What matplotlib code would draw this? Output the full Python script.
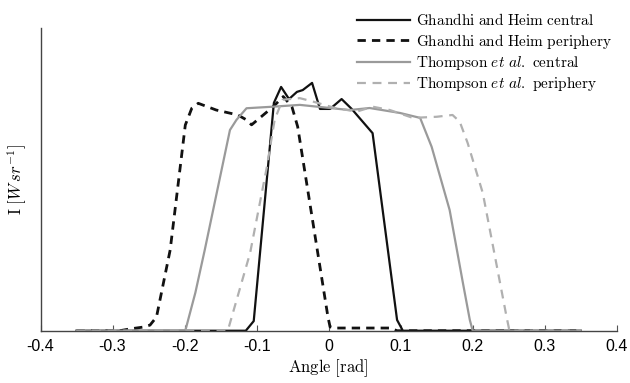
import matplotlib.pyplot as plt
import numpy as np

plt.rcParams['mathtext.fontset'] = 'cm'
plt.rcParams['axes.unicode_minus'] = False

# Ghandhi and Heim, central
gh_c_x = [-0.35, -0.115, -0.104, -0.076, -0.066, -0.055, -0.044, -0.036, -0.023, -0.012,
          0.002, 0.018, 0.032, 0.061, 0.095, 0.103, 0.35]
gh_c_y = [0, 0, 0.043, 1.016, 1.087, 1.033, 1.065, 1.073, 1.105, 0.989,
          0.989, 1.033, 0.989, 0.881, 0.048, 0, 0]

# Ghandhi and Heim, periphery
gh_p_x = [-0.35, -0.29, -0.276, -0.258, -0.248, -0.239, -0.22, -0.199, -0.19, -0.181, -0.156,
          -0.126, -0.114, -0.107, -0.077, -0.063, -0.051, -0.043, -0.001, 0.002, 0.01,
          0.042, 0.085, 0.095, 0.35]
gh_p_y = [0, 0, 0.008, 0.016, 0.025, 0.061, 0.36, 0.917, 0.992, 1.014, 0.984,
          0.962, 0.94, 0.918, 0.999, 1.044, 0.999, 0.91, 0.062, 0.017, 0.012,
          0.012, 0.012, 0, 0]

# Thompson et al., central
th_c_x = [-0.35, -0.199, -0.185, -0.172, -0.137, -0.128, -0.114, -0.077, -0.04, 0.002, 0.029,
          0.057, 0.099, 0.127, 0.143, 0.168, 0.186, 0.196, 0.2, 0.35]
th_c_y = [0, 0, 0.17, 0.36, 0.895, 0.94, 0.992, 0.999, 1.007, 0.993, 0.984,
          0.993, 0.971, 0.949, 0.82, 0.538, 0.22, 0.048, 0, 0]

# Thompson et al., periphery
th_p_x = [-0.35, -0.14, -0.109, -0.086, -0.075, -0.064, -0.04, -0.022, 0.009, 0.039,
          0.061, 0.085, 0.117, 0.15, 0.172, 0.182, 0.193, 0.214, 0.247, 0.251, 0.35]
th_p_y = [0, 0, 0.347, 0.726, 0.94, 1.03, 1.037, 1.022, 0.993, 0.977,
          0.999, 0.984, 0.949, 0.954, 0.962, 0.932, 0.837, 0.614, 0.062, 0, 0]

fig = plt.figure(figsize=(6.3, 3.83), dpi=100)
ax = fig.add_axes([0.0643, 0.1365, 0.9147, 0.7905])

l1, = ax.plot(gh_c_x, gh_c_y, color='#111111', lw=1.6,
              label=r'$\mathrm{Ghandhi\ and\ Heim\ central}$')
l2, = ax.plot(gh_p_x, gh_p_y, color='#111111', lw=2.0, ls='--', dashes=(3, 2.2),
              label=r'$\mathrm{Ghandhi\ and\ Heim\ periphery}$')
l3, = ax.plot(th_c_x, th_c_y, color='#9a9a9a', lw=1.6,
              label=r'$\mathrm{Thompson}\ \mathit{et\ al.}\ \mathrm{central}$')
l4, = ax.plot(th_p_x, th_p_y, color='#b0b0b0', lw=1.6, ls='--', dashes=(4, 3),
              label=r'$\mathrm{Thompson}\ \mathit{et\ al.}\ \mathrm{periphery}$')

ax.set_xlim(-0.4, 0.4)
ax.set_ylim(0, 1.35)
ax.set_xticks(np.arange(-0.4, 0.41, 0.1))
ax.set_xticklabels(['-0.4', '-0.3', '-0.2', '-0.1', '0', '0.1', '0.2', '0.3', '0.4'],
                   fontfamily='Liberation Sans', fontsize=11.5)
ax.set_yticks([])
ax.tick_params(axis='x', direction='in', length=4, color='#555555', pad=6)
for s in ['top', 'right']:
    ax.spines[s].set_visible(False)
for s in ['left', 'bottom']:
    ax.spines[s].set_color('#444444')
    ax.spines[s].set_linewidth(1.0)

ax.set_xlabel(r'$\mathrm{Angle\ [rad]}$', fontsize=12, labelpad=2)
ax.set_ylabel(r'$\mathrm{I}\ [W\,sr^{-1}]$', fontsize=12, labelpad=8)

fig.legend(handles=[l1, l2, l3, l4], loc='upper right', bbox_to_anchor=(0.99, 1.0),
           frameon=False, fontsize=11, handlelength=3.5, handletextpad=0.35,
           labelspacing=0.22, borderpad=0.3)

fig.savefig('out.png', dpi=100)
